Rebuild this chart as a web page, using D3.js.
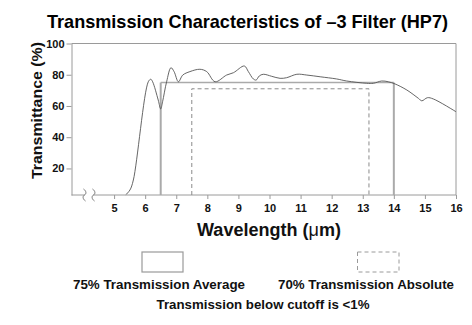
<!DOCTYPE html>
<html>
<head>
<meta charset="utf-8">
<script src="https://cdn.jsdelivr.net/npm/d3@7"></script>
<style>
  html, body { margin: 0; padding: 0; background: #fff; }
  svg { display: block; font-family: "Liberation Sans", Arial, sans-serif; }
</style>
</head>
<body>
<svg id="chart" width="472" height="325"></svg>
<script>
// ---- data ----
const wavelength = [5.38, 5.51, 5.62, 6.10, 6.18, 6.24, 6.42, 6.50, 6.56, 6.69, 6.83, 6.93, 7.07, 7.21, 7.44, 7.76, 7.98, 8.25,
  8.62, 8.84, 9.19, 9.32, 9.48, 9.57, 9.67, 9.80, 10.07, 10.34, 10.55, 10.88, 11.20, 11.63, 12.16,
  12.48, 13.13, 13.34, 13.61, 13.82, 14.04, 14.42, 14.79, 14.90, 15.08, 15.27, 16.0];
const transmittance = [3.2, 6.2, 12.6, 75.5, 77.1, 75.5, 63.8, 58.1, 62.7, 75.5, 84.5, 82.0, 75.5, 79.8, 82.0, 83.5, 82.0, 75.5,
  79.8, 81.3, 85.6, 82.0, 77.3, 76.6, 79.2, 80.3, 79.0, 77.7, 78.1, 80.3, 79.8, 78.7, 77.3,
  76.0, 74.5, 74.5, 76.0, 75.5, 74.1, 70.2, 64.9, 63.3, 65.3, 64.5, 56.3];
const averageBand = { from: 6.5, to: 14.0, level: 75 };   // 75% Transmission Average
const absoluteBand = { from: 7.5, to: 13.2, level: 71 };  // 70% Transmission Absolute
const xTicks = [5, 6, 7, 8, 9, 10, 11, 12, 13, 14, 15, 16];
const yTicks = [20, 40, 60, 80, 100];
const titleText = "Transmission Characteristics of \u20133 Filter (HP7)";
const yLabel = "Transmittance (%)";
const legendLabels = ["75% Transmission Average", "70% Transmission Absolute"];
const footnote = "Transmission below cutoff is <1%";

// ---- layout ----
const svg = d3.select("#chart");
const xMin = 3.63, yFloor = 3;
const x = d3.scaleLinear().domain([xMin, 16]).range([71.5, 456]);
const y = d3.scaleLinear().domain([yFloor, 100]).range([195, 43.5]);

const axisColor = "#9a9a9a";
const gridText = "#111";

// frame: top + right
svg.append("path")
  .attr("d", `M${x(xMin)},${y(100)}H${x(16)}V${y(yFloor)}`)
  .attr("fill", "none").attr("stroke", axisColor).attr("stroke-width", 1);

// y axis
const yAxis = svg.append("g").attr("transform", `translate(${x(xMin)},0)`)
  .call(d3.axisLeft(y).tickValues(yTicks).tickSize(5).tickPadding(2).tickSizeOuter(0));
yAxis.select(".domain").attr("stroke", axisColor);
yAxis.selectAll(".tick line").attr("stroke", axisColor);
yAxis.selectAll("text").attr("font-size", 11).attr("font-weight", "bold").attr("fill", gridText)
  .attr("font-family", "Liberation Sans, Arial, sans-serif");

// x axis
const xAxis = svg.append("g").attr("transform", `translate(0,${y(yFloor)})`)
  .call(d3.axisBottom(x).tickValues(xTicks).tickSize(4).tickPadding(5).tickSizeOuter(0).tickFormat(d3.format("d")));
xAxis.select(".domain").remove();
xAxis.selectAll(".tick line").attr("stroke", axisColor);
xAxis.selectAll("text").attr("font-size", 11).attr("font-weight", "bold").attr("fill", gridText)
  .attr("font-family", "Liberation Sans, Arial, sans-serif");

// baseline with axis break
const by = y(yFloor);
const b1 = x(xMin) + 13, b2 = x(xMin) + 22;
svg.append("path")
  .attr("d", `M${x(xMin)},${by}H${b1}M${b2},${by}H${x(16)}`)
  .attr("stroke", axisColor).attr("fill", "none");
[b1, b2].forEach(bx => {
  svg.append("path")
    .attr("d", `M${bx - 1},${by - 6} C${bx + 2},${by - 4} ${bx + 2},${by - 1} ${bx},${by} C${bx - 2},${by + 1} ${bx - 2},${by + 4} ${bx + 1},${by + 6}`)
    .attr("fill", "none").attr("stroke", "#777").attr("stroke-width", 1);
});

// average band (solid gray)
svg.append("path")
  .attr("d", `M${x(averageBand.from)},${y(averageBand.level)}H${x(averageBand.to)}`)
  .attr("stroke", "#aaa").attr("stroke-width", 1.4).attr("fill", "none");
[averageBand.from, averageBand.to].forEach(v => {
  svg.append("line")
    .attr("x1", x(v)).attr("x2", x(v)).attr("y1", y(averageBand.level)).attr("y2", y(yFloor))
    .attr("stroke", "#aaa").attr("stroke-width", 2);
});

// absolute band (dashed)
svg.append("path")
  .attr("d", `M${x(absoluteBand.from)},${y(yFloor)}V${y(absoluteBand.level)}H${x(absoluteBand.to)}V${y(yFloor)}`)
  .attr("stroke", "#8a8a8a").attr("stroke-width", 1).attr("stroke-dasharray", "4,3").attr("fill", "none");

// curve
const pts = wavelength.map((w, i) => [w, transmittance[i]]);
svg.append("path")
  .datum(pts)
  .attr("d", d3.line().x(d => x(d[0])).y(d => y(d[1])).curve(d3.curveCatmullRom.alpha(0.5)))
  .attr("fill", "none").attr("stroke", "#555").attr("stroke-width", 0.9);

// title
svg.append("text")
  .attr("x", 247.5).attr("y", 28).attr("text-anchor", "middle")
  .attr("font-size", 19).attr("font-weight", "bold").attr("fill", "#000")
  .attr("textLength", 401).attr("lengthAdjust", "spacingAndGlyphs")
  .text(titleText);

// y label
svg.append("text")
  .attr("transform", "translate(42,110.5) rotate(-90)")
  .attr("text-anchor", "middle")
  .attr("font-size", 15.5).attr("font-weight", "bold").attr("fill", "#111")
  .attr("textLength", 137).attr("lengthAdjust", "spacingAndGlyphs")
  .text(yLabel);

// x label
const xl = svg.append("text")
  .attr("x", 269).attr("y", 236).attr("text-anchor", "middle")
  .attr("font-size", 18).attr("font-weight", "bold").attr("fill", "#111")
  .attr("textLength", 144).attr("lengthAdjust", "spacingAndGlyphs");
xl.append("tspan").text("Wavelength (");
xl.append("tspan").attr("font-weight", "normal").text("\u03bc");
xl.append("tspan").text("m)");

// legend
svg.append("rect").attr("x", 142).attr("y", 252).attr("width", 41).attr("height", 20)
  .attr("fill", "none").attr("stroke", "#9a9a9a").attr("stroke-width", 1.2);
svg.append("rect").attr("x", 357.5).attr("y", 252).attr("width", 41.5).attr("height", 20)
  .attr("fill", "none").attr("stroke", "#9a9a9a").attr("stroke-width", 1).attr("stroke-dasharray", "4,3");

svg.append("text").attr("x", 159).attr("y", 289).attr("text-anchor", "middle")
  .attr("font-size", 13).attr("font-weight", "bold").attr("fill", "#111")
  .attr("textLength", 172).attr("lengthAdjust", "spacingAndGlyphs")
  .text(legendLabels[0]);
svg.append("text").attr("x", 366).attr("y", 289).attr("text-anchor", "middle")
  .attr("font-size", 13).attr("font-weight", "bold").attr("fill", "#111")
  .attr("textLength", 176).attr("lengthAdjust", "spacingAndGlyphs")
  .text(legendLabels[1]);
svg.append("text").attr("x", 263).attr("y", 309).attr("text-anchor", "middle")
  .attr("font-size", 13).attr("font-weight", "bold").attr("fill", "#111")
  .attr("textLength", 213).attr("lengthAdjust", "spacingAndGlyphs")
  .text(footnote);
</script>
</body>
</html>
